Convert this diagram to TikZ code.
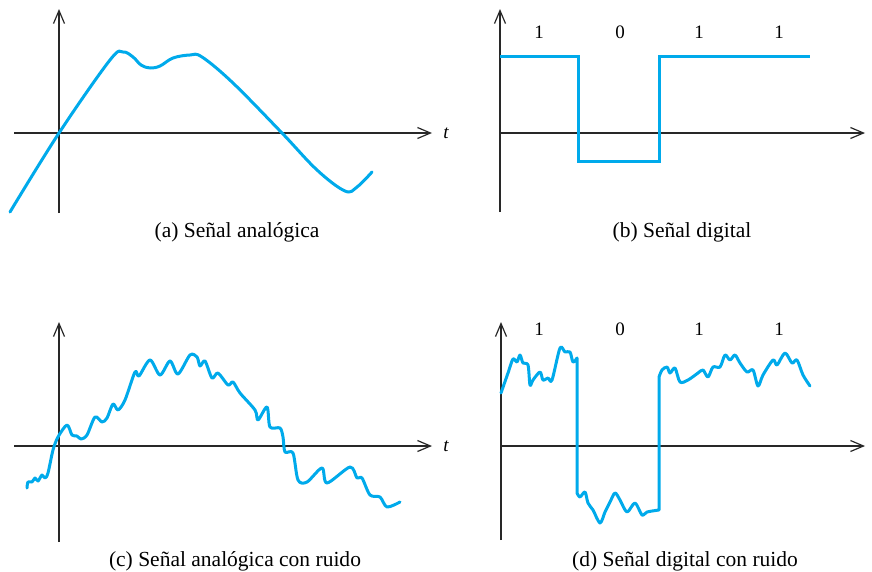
\documentclass[tikz,border=0pt]{standalone}
\usepackage{fontspec}
\setmainfont{Liberation Serif}
\usetikzlibrary{arrows.meta}
\definecolor{sig}{RGB}{0,170,235}
\definecolor{axc}{RGB}{40,40,40}
\tikzset{
  axisline/.style={draw=axc, line width=1.3pt, -{Straight Barb[length=13pt,width=11pt,line width=1.2pt]}},
  signal/.style={draw=sig, line width=3pt, line join=round, line cap=round},
  captxt/.style={font=\fontsize{21.5}{24}\selectfont, anchor=base, inner sep=0pt},
  bit/.style={font=\fontsize{19}{22}\selectfont, inner sep=0pt},
  tlab/.style={font=\fontsize{19}{22}\selectfont\itshape, inner sep=0pt}
}
\begin{document}
\begin{tikzpicture}[x=1pt,y=-1pt]
\useasboundingbox (0,0) rectangle (872,571);
% ---------- (a)
\draw[axisline] (59,213) -- (59,9);
\draw[axisline] (14,133) -- (432,133);
\node[tlab] (ta) at (446,133) {t};
\draw[signal] plot[smooth, tension=0.6] coordinates {
 (10,212) (59,133) (110,60) (123,52) (133,57) (141,65) (150,68) (160,66)
 (173,58) (190,55) (202,57) (233,83) (282,133) (317,170) (345,191) (357,187) (372,172)};
\node[captxt] (ca) at (237,237) {(a) Señal analógica};
% ---------- (b)
\draw[axisline] (500,212) -- (500,9);
\draw[axisline] (500,133) -- (865,133);
\draw[signal, line cap=butt, line join=miter] (500,56) -- (578,56) -- (578,161) -- (659,161) -- (659,56) -- (810,56);
\node[bit] (b1) at (539,32) {1};
\node[bit] (b2) at (620,32) {0};
\node[bit] (b3) at (699,32) {1};
\node[bit] (b4) at (779,32) {1};
\node[captxt] (cb) at (682,237) {(b) Señal digital};
% ---------- (c)
\draw[axisline] (59,542) -- (59,322);
\draw[axisline] (14,446) -- (432,446);
\node[tlab] (tc) at (446,446) {t};
\draw[signal] plot[smooth, tension=0.5] coordinates {
 (27,488) (28,482) (32,482) (35,478) (38,481) (42,475) (45,478) (48,473)
 (53,450) (58,437) (67,425) (72,435) (77,436) (81,439) (87,435) (95,417)
 (102,422) (107,418) (113,404) (118,410) (125,400) (135,372) (139,376)
 (150,360) (160,375) (170,361) (178,374) (190,355) (197,357) (200,366)
 (205,361) (212,378) (218,373) (228,385) (233,382) (240,393) (255,410)
 (258,420) (267,407) (270,427) (280,428) (283,437) (285,452) (293,453)
 (298,480) (307,482) (322,468) (327,483) (350,467) (357,478) (362,478)
 (370,495) (380,497) (387,507) (400,502)};
\node[captxt] (cc) at (235,566) {(c) Señal analógica con ruido};
% ---------- (d)
\draw[axisline] (501,540) -- (501,322);
\draw[axisline] (501,446) -- (865,446);
\draw[signal] plot[smooth, tension=0.5] coordinates {
 (501,393) (508,373) (513,359) (517,362) (520,355) (523,363) (528,365)
 (530,385) (533,380) (540,372) (543,380) (548,378) (552,380) (560,348)
 (565,352) (570,352) (573,362) (577,358)}
 -- (577,493) plot[smooth, tension=0.5] coordinates {
 (577,493) (580,497) (585,492) (588,503) (593,510) (600,523) (605,512)
 (610,502) (615,493) (620,500) (627,512) (635,503) (642,515) (647,512)
 (659,510)} -- (659,377) plot[smooth, tension=0.5] coordinates {
 (659,377) (662,370) (667,367) (670,373) (675,368) (680,382) (688,380)
 (698,373) (703,370) (708,377) (713,367) (720,367) (725,355) (730,360)
 (735,355) (740,363) (747,372) (753,370) (758,386) (763,375) (773,360)
 (777,365) (785,353) (792,363) (797,360) (803,375) (810,386)};
\node[bit] (d1) at (539,329) {1};
\node[bit] (d2) at (620,329) {0};
\node[bit] (d3) at (699,329) {1};
\node[bit] (d4) at (779,329) {1};
\node[captxt] (cd) at (685,566) {(d) Señal digital con ruido};
\end{tikzpicture}
\end{document}
